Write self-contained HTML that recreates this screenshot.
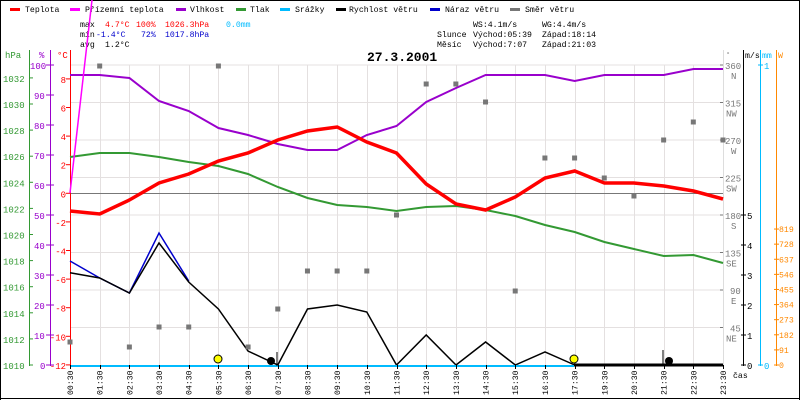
<!DOCTYPE html>
<html><head><meta charset="utf-8"><style>
html,body{margin:0;padding:0;background:#fff}
svg{display:block}
text{font-family:"Liberation Mono",monospace;font-size:9px}
.s{font-size:8.2px}
</style></head><body>
<svg width="800" height="400" viewBox="0 0 800 400" xmlns="http://www.w3.org/2000/svg">
<rect x="0" y="0" width="800" height="400" fill="#fff"/>
<line x1="0.5" y1="0" x2="0.5" y2="400" stroke="#000"/>
<line x1="0" y1="398.5" x2="800" y2="398.5" stroke="#000"/>
<line x1="0" y1="0.5" x2="800" y2="0.5" stroke="#000"/>
<line x1="799.5" y1="0" x2="799.5" y2="400" stroke="#000"/>
<!-- legend -->
<g class="s">
<rect x="10" y="8" width="10" height="3" fill="#f00"/><text class="s" x="25" y="12">Teplota</text>
<rect x="70" y="8" width="10" height="3" fill="#f0f"/><text class="s" x="85" y="12">Přízemní teplota</text>
<rect x="176" y="8" width="10" height="3" fill="#90c"/><text class="s" x="190" y="12">Vlhkost</text>
<rect x="236" y="8" width="10" height="3" fill="#393"/><text class="s" x="250" y="12">Tlak</text>
<rect x="280" y="8" width="10" height="3" fill="#0bf"/><text class="s" x="295" y="12">Srážky</text>
<rect x="336" y="8" width="10" height="3" fill="#000"/><text class="s" x="349" y="12">Rychlost větru</text>
<rect x="430" y="8" width="10" height="3" fill="#00c"/><text class="s" x="445" y="12">Náraz větru</text>
<rect x="510" y="8" width="10" height="3" fill="#777"/><text class="s" x="525" y="12">Směr větru</text>
</g>
<text class="s" x="80" y="27">max</text><text class="s" x="105" y="27" fill="#f00">4.7°C</text><text class="s" x="136" y="27" fill="#f00">100%</text><text class="s" x="165" y="27" fill="#f00">1026.3hPa</text><text class="s" x="226" y="27" fill="#0bf">0.0mm</text>
<text class="s" x="80" y="37">min</text><text class="s" x="96" y="37" fill="#00c">-1.4°C</text><text class="s" x="141" y="37" fill="#00c">72%</text><text class="s" x="165" y="37" fill="#00c">1017.8hPa</text>
<text class="s" x="80" y="47">avg</text><text class="s" x="105" y="47">1.2°C</text>
<text class="s" x="473" y="27">WS:4.1m/s</text><text class="s" x="542" y="27">WG:4.4m/s</text>
<text class="s" x="437" y="37">Slunce</text><text class="s" x="473" y="37">Východ:05:39</text><text class="s" x="542" y="37">Západ:18:14</text>
<text class="s" x="437" y="47">Měsíc</text><text class="s" x="473" y="47">Východ:7:07</text><text class="s" x="542" y="47">Západ:21:03</text>
<text x="367" y="61" style="font-size:13px;font-weight:bold">27.3.2001</text>
<!-- grid -->
<g stroke="#e4e0e0" stroke-width="1">
<line x1="70" y1="65" x2="723" y2="65"/><line x1="70" y1="102.5" x2="723" y2="102.5"/><line x1="70" y1="140" x2="723" y2="140"/><line x1="70" y1="177.5" x2="723" y2="177.5"/><line x1="70" y1="215" x2="723" y2="215"/><line x1="70" y1="252.5" x2="723" y2="252.5"/><line x1="70" y1="290" x2="723" y2="290"/><line x1="70" y1="327.5" x2="723" y2="327.5"/>
</g>
<g id="vg" stroke="#e4e0e0"></g>
<line x1="70" y1="193.5" x2="723" y2="193.5" stroke="#777"/>
<!-- axes left -->
<line x1="29.5" y1="50" x2="29.5" y2="366" stroke="#393"/>
<line x1="50.5" y1="50" x2="50.5" y2="366" stroke="#90c"/>
<line x1="70.5" y1="50" x2="70.5" y2="366" stroke="#f00"/>
<text x="5" y="58" fill="#393">hPa</text><text x="39" y="58" fill="#90c">%</text><text x="57" y="58" fill="#f00">°C</text>
<g id="la"></g>
<!-- right axes -->
<line x1="723.5" y1="50" x2="723.5" y2="366" stroke="#ddd"/>
<line x1="743.5" y1="50" x2="743.5" y2="366" stroke="#000"/>
<line x1="760.5" y1="50" x2="760.5" y2="366" stroke="#0bf"/>
<line x1="776.5" y1="50" x2="776.5" y2="366" stroke="#f80"/>
<text x="726" y="57" fill="#777" style="font-size:7px">°</text>
<text class="s" x="745" y="58">m/s</text><text class="s" x="762" y="58" fill="#0bf">mm</text><text class="s" x="778" y="58" fill="#f80">W</text>
<g id="ra"></g>
<!-- series -->
<polyline fill="none" stroke="#393" stroke-width="2" points="70,157 99.7,153 129.4,153 159,157 188.7,162 218.4,166 248,174 277.8,187 307.5,198 337.2,205 366.8,207 396.5,211 426.2,207 456,206 485.6,210 515.3,216 545,225 574.7,232 604.4,242 634,249 663.8,256 693.5,255 723,263"/>
<polyline fill="none" stroke="#90c" stroke-width="2" points="70,75 99.7,75 129.4,78 159,101 188.7,111 218.4,128 248,135 277.8,144 307.5,150 337.2,150 366.8,135 396.5,126 426.2,102 456,88 485.6,75 515.3,75 545,75 574.7,81 604.4,75 634,75 663.8,75 693.5,69 723,69"/>
<polyline fill="none" stroke="#f00" stroke-width="3.5" points="70,211 99.7,214 129.4,200 159,183 188.7,174 218.4,161 248,153 277.8,140 307.5,131 337.2,127 366.8,142 396.5,153 426.2,184 456,204 485.6,210 515.3,197 545,178 574.7,171 604.4,183 634,183 663.8,186 693.5,191 723,199"/>
<line x1="70" y1="193" x2="92" y2="0" stroke="#f0f" stroke-width="1.5"/>
<polyline fill="none" stroke="#00c" stroke-width="1.5" points="70,261 99.7,278 129.4,293 159,233 188.7,281"/>
<polyline fill="none" stroke="#000" stroke-width="1.5" points="70,272.7 99.7,278 129.4,293 159,243 188.7,282 218.4,309 248,351 277.8,365 307.5,309 337.2,305 366.8,312 396.5,365 426.2,335 456,365 485.6,342 515.3,365 545,352 574.7,365"/>
<line x1="574" y1="365" x2="723" y2="365" stroke="#000" stroke-width="3"/>
<line x1="70" y1="366" x2="574" y2="366" stroke="#0bf" stroke-width="2"/>
<g fill="#777" id="dir"></g>
<circle cx="218" cy="359" r="4" fill="#ff0" stroke="#000"/>
<circle cx="574" cy="359" r="4" fill="#ff0" stroke="#000"/>
<circle cx="271" cy="361" r="4" fill="#000"/>
<circle cx="669" cy="361" r="4" fill="#000"/>
<line x1="277" y1="352" x2="277" y2="366" stroke="#000"/>
<line x1="663" y1="350" x2="663" y2="366" stroke="#000"/>
<text class="s" x="733" y="378">čas</text>
<g id="tl"></g>
</svg>
<script>
var ns="http://www.w3.org/2000/svg";
function el(p,t,a,txt){var e=document.createElementNS(ns,t);for(var k in a)e.setAttribute(k,a[k]);if(txt!==undefined)e.textContent=txt;document.getElementById(p).appendChild(e);return e;}
var labs=["00","01","02","03","04","05","06","07","08","09","10","11","12","13","14","15","16","17","19","20","21","22","23"];
for(var i=0;i<23;i++){var x=70+i*(653/22);var xr=Math.round(x)+0.5;
el("vg","line",{x1:xr,y1:65,x2:xr,y2:365});
el("tl","line",{x1:xr,y1:365,x2:xr,y2:369,stroke:"#000"});
el("tl","text",{"class":"s",x:0,y:0,transform:"translate("+(x+3)+",395) rotate(-90)"},labs[i]+":30");}
for(var v=1010;v<=1032;v+=2){var y=365-(v-1010)*13.05;el("la","line",{x1:29,y1:y,x2:33,y2:y,stroke:"#393"});el("la","text",{x:3,y:y+4,fill:"#393"},v);}
for(var v=0;v<=100;v+=10){var y=365-v*3;el("la","line",{x1:46,y1:y,x2:54,y2:y,stroke:"#90c"});el("la","text",{x:v==100?30:(v==0?40:34),y:y+4,fill:"#90c"},v);}
for(var v=-12;v<=8;v+=2){var y=193.3-v*14.3;el("la","line",{x1:66,y1:y,x2:70,y2:y,stroke:"#f00"});var s=String(v);el("la","text",{x:66-s.length*5.4,y:y+4,fill:"#f00"},s);}
var dn={360:"N",315:"NW",270:"W",225:"SW",180:"S",135:"SE",90:"E",45:"NE"};
for(var d=45;d<=360;d+=45){var y=365-d*0.8333;el("ra","line",{x1:720,y1:y,x2:723,y2:y,stroke:"#777"});el("ra","text",{x:d>=100?725:730,y:y+4,fill:"#777"},d);el("ra","text",{x:dn[d].length>1?726:731,y:y+14,fill:"#777"},dn[d]);}
for(var v=0;v<=5;v++){var y=365-v*30;el("ra","line",{x1:741,y1:y,x2:746,y2:y,stroke:"#000"});el("ra","text",{x:747,y:y+4},v);}
el("ra","line",{x1:758,y1:365,x2:763,y2:365,stroke:"#0bf"});el("ra","text",{x:764,y:369,fill:"#0bf"},"0");
el("ra","line",{x1:758,y1:65,x2:763,y2:65,stroke:"#0bf"});el("ra","text",{x:764,y:69,fill:"#0bf"},"1");
for(var k=0;k<=9;k++){var w=k*91;var y=365-w*0.166;el("ra","line",{x1:774,y1:y,x2:779,y2:y,stroke:"#f80"});el("ra","text",{"class":"s",x:779,y:y+3,fill:"#f80"},w);}
var dy=[342,66,347,327,327,66,347,309,271,271,271,215,84,84,102,291,158,158,178,196,140,122,140];
for(var i=0;i<23;i++){var x=70+i*(653/22);el("dir","rect",{x:x-2.5,y:dy[i]-2.5,width:5,height:5});}
</script>
</body></html>
